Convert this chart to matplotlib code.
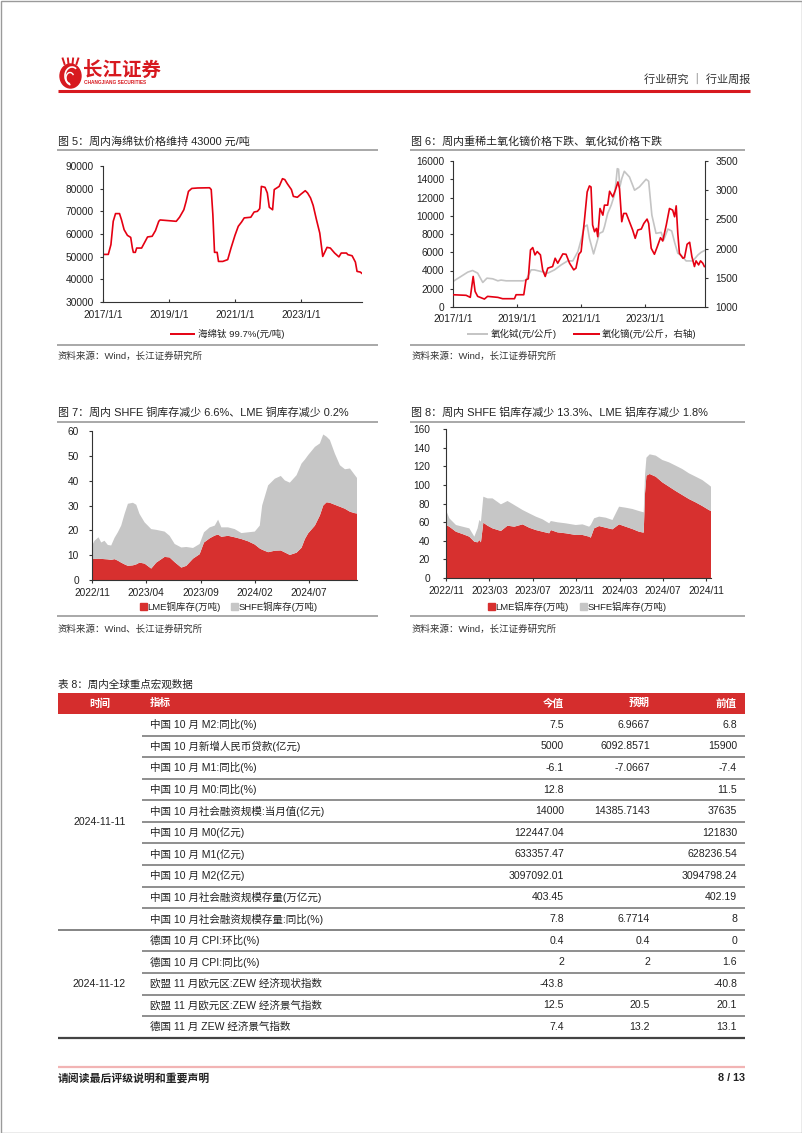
import matplotlib
matplotlib.use('Agg')
import matplotlib.pyplot as plt
from matplotlib.patches import Rectangle, Ellipse, Arc

plt.rcParams['font.family'] = ['Liberation Sans', 'Noto Sans CJK SC']
plt.rcParams['axes.unicode_minus'] = False

# ---------------- data ----------------
# 图5 海绵钛 99.7%(元/吨), x = decimal year
ti_year = [2017.04, 2017.16, 2017.24, 2017.31, 2017.38, 2017.50, 2017.56, 2017.64, 2017.74, 2017.84,
           2017.89, 2017.92, 2017.98, 2018.02, 2018.17, 2018.27, 2018.35, 2018.49, 2018.59, 2018.69,
           2018.73, 2019.22, 2019.32, 2019.45, 2019.52, 2019.59, 2019.69, 2019.87, 2020.23, 2020.28,
           2020.33, 2020.38, 2020.46, 2020.50, 2020.63, 2020.78, 2020.88, 2021.00, 2021.10, 2021.20,
           2021.28, 2021.48, 2021.58, 2021.68, 2021.75, 2021.80, 2021.91, 2021.98, 2022.04, 2022.14,
           2022.19, 2022.34, 2022.44, 2022.51, 2022.59, 2022.71, 2022.77, 2022.89, 2023.00, 2023.13,
           2023.20, 2023.29, 2023.37, 2023.47, 2023.57, 2023.66, 2023.79, 2023.89, 2024.02, 2024.15,
           2024.22, 2024.38, 2024.42, 2024.55, 2024.65, 2024.70, 2024.80, 2024.85]
ti_price = [51000, 51000, 55300, 65600, 69000, 69000, 66300, 61900, 59400, 58500,
            53800, 51900, 51900, 53800, 53800, 56500, 58700, 59000, 61500, 65600,
            66200, 65600, 67400, 70700, 74400, 78800, 80100, 80300, 80400, 79600,
            68500, 51900, 51900, 47900, 47900, 48700, 53800, 59400, 63400, 65300,
            67100, 67400, 69700, 70000, 71200, 81000, 80600, 78100, 71800, 70700,
            79600, 81000, 84400, 84000, 82100, 79600, 76600, 76200, 77600, 79100,
            78100, 75900, 72600, 66300, 60400, 50100, 54100, 53800, 51600, 49900,
            51600, 51600, 50900, 50400, 47600, 43500, 43200, 42600]

# 图6 氧化铽(元/公斤, 左轴)
tb_year = [2017.00, 2017.25, 2017.46, 2017.61, 2017.77, 2017.93, 2018.06, 2018.24, 2018.40, 2018.50,
           2018.66, 2019.18, 2019.28, 2019.44, 2019.54, 2019.75, 2019.96, 2020.17, 2020.38, 2020.58,
           2020.74, 2020.90, 2021.00, 2021.10, 2021.19, 2021.26, 2021.39, 2021.47, 2021.57, 2021.68,
           2021.73, 2021.83, 2021.94, 2022.04, 2022.09, 2022.13, 2022.17, 2022.21, 2022.27, 2022.35,
           2022.51, 2022.67, 2022.82, 2023.03, 2023.11, 2023.21, 2023.34, 2023.50, 2023.58, 2023.71,
           2023.83, 2023.92, 2024.02, 2024.13, 2024.28, 2024.49, 2024.65, 2024.75, 2024.85]
tb_price = [2800, 3350, 3820, 4000, 3710, 2690, 3160, 3090, 2870, 2950,
            2870, 2870, 2950, 4070, 4070, 3890, 3710, 4070, 4620, 5050,
            5050, 6070, 7350, 8800, 8980, 7530, 5820, 6800, 8070, 8250,
            8800, 10250, 11160, 12250, 13700, 15160, 15100, 13160, 14070, 14870,
            14250, 12800, 13160, 14000, 13780, 10070, 8070, 8180, 7350, 8540,
            8330, 7090, 5890, 5640, 5050, 5050, 5710, 6000, 6180]

# 图6 氧化镝(元/公斤, 右轴)
dy_year = [2017.00, 2017.41, 2017.54, 2017.63, 2017.69, 2017.77, 2017.98, 2018.08, 2018.40, 2018.55,
           2018.92, 2018.97, 2019.21, 2019.28, 2019.35, 2019.42, 2019.49, 2019.56, 2019.63, 2019.73,
           2019.80, 2019.88, 2019.96, 2020.11, 2020.19, 2020.27, 2020.43, 2020.53, 2020.64, 2020.77,
           2020.84, 2020.93, 2021.00, 2021.10, 2021.19, 2021.26, 2021.31, 2021.36, 2021.42, 2021.48,
           2021.52, 2021.59, 2021.68, 2021.73, 2021.83, 2021.89, 2021.99, 2022.07, 2022.15, 2022.20,
           2022.27, 2022.33, 2022.41, 2022.51, 2022.61, 2022.69, 2022.77, 2022.88, 2022.96, 2023.06,
           2023.11, 2023.19, 2023.29, 2023.38, 2023.48, 2023.55, 2023.66, 2023.76, 2023.86, 2023.92,
           2023.97, 2024.02, 2024.07, 2024.18, 2024.23, 2024.31, 2024.39, 2024.46, 2024.54, 2024.59,
           2024.67, 2024.73, 2024.80, 2024.85]
dy_price = [1210, 1200, 1165, 1523, 1267, 1182, 1136, 1182, 1165, 1142,
            1142, 1210, 1210, 1466, 1483, 1977, 2017, 1892, 1949, 1892,
            1636, 1523, 1665, 1693, 1835, 1750, 1909, 1903, 1750, 1636,
            1665, 1903, 1949, 2460, 2971, 3073, 3056, 2403, 2289, 2346,
            2204, 2687, 2573, 2744, 2744, 2982, 2886, 3000, 3141, 3028,
            2460, 2602, 2602, 2460, 2318, 2176, 2318, 2335, 2431, 2505,
            2431, 2005, 1903, 2034, 2187, 2130, 2403, 2687, 2659, 2545,
            2732, 2261, 1920, 1835, 1846, 2074, 2108, 1863, 1693, 1790,
            1721, 1790, 1750, 1693]

# 图7 铜库存(万吨), x = months since 2022/11
cu_month = [0.0, 0.23, 0.6, 0.85, 1.15, 1.46, 1.77, 2.08, 2.38, 2.69,
            3.0, 3.31, 3.77, 4.08, 4.38, 4.85, 5.46, 5.92, 6.69, 7.15,
            7.62, 8.23, 8.69, 9.31, 9.92, 10.32, 10.85, 11.31, 11.62, 11.92,
            12.54, 13.15, 13.77, 14.38, 15.0, 15.46, 15.68, 16.23, 16.85, 17.4,
            17.77, 18.23, 18.85, 19.31, 19.62, 19.92, 20.54, 21.0, 21.31, 21.62,
            21.92, 22.38, 22.85, 23.31, 23.77, 24.23, 24.42]
cu_lme = [8.4, 8.5, 8.6, 8.5, 8.4, 8.3, 8.1, 8.4, 7.8, 7.0,
          6.3, 5.7, 5.9, 6.3, 7.0, 6.6, 4.6, 7.0, 9.3, 9.1,
          7.2, 5.0, 5.7, 8.6, 10.4, 15.1, 16.8, 17.9, 18.3, 17.4,
          17.8, 17.2, 16.5, 15.6, 14.3, 12.7, 12.2, 11.2, 11.8, 11.9,
          11.1, 10.1, 11.0, 13.0, 16.5, 18.8, 21.9, 26.0, 30.0, 31.3,
          31.1, 30.3, 29.5, 28.7, 27.5, 26.9, 26.8]
cu_shfe = [5.4, 7.3, 8.6, 6.6, 7.4, 5.8, 5.8, 8.6, 11.4, 14.9,
           20.3, 25.0, 25.2, 24.0, 19.6, 16.6, 15.9, 13.2, 10.2, 8.7,
           7.3, 8.1, 7.6, 4.3, 4.1, 4.1, 4.4, 4.0, 6.0, 3.8,
           3.4, 3.3, 2.4, 3.6, 5.2, 9.2, 17.8, 26.9, 29.0, 30.0,
           29.0, 29.1, 31.2, 33.9, 32.0, 31.5, 31.7, 29.0, 28.6, 26.4,
           25.3, 20.6, 16.7, 15.9, 17.4, 15.3, 14.3]
cu_ticks = [0, 5, 10, 15, 20]
cu_labels = ['2022/11', '2023/04', '2023/09', '2024/02', '2024/07']

# 图8 铝库存(万吨)
al_month = [0.0, 0.31, 0.92, 1.53, 2.15, 2.61, 2.91, 3.07, 3.22, 3.44,
            3.83, 4.29, 5.06, 5.67, 6.29, 7.06, 7.67, 8.28, 8.9, 9.51,
            9.66, 10.28, 11.04, 11.96, 12.58, 13.19, 13.34, 13.65, 14.11, 14.72,
            15.34, 15.95, 16.56, 17.18, 17.79, 18.22, 18.34, 18.47, 18.77, 19.33,
            19.94, 20.55, 21.17, 21.78, 22.39, 23.01, 23.62, 24.23, 24.42]
al_lme = [56.9, 55.1, 49.7, 47.2, 44.4, 39.0, 38.3, 40.8, 38.3, 59.4,
          56.2, 53.3, 50.5, 56.2, 55.1, 57.6, 54.0, 51.5, 49.7, 48.0,
          51.5, 49.0, 48.0, 46.2, 46.2, 44.4, 43.3, 53.3, 55.8, 54.0,
          52.3, 57.6, 55.1, 52.6, 49.7, 48.7, 90.9, 109.9, 111.7, 108.8,
          102.7, 98.1, 93.4, 89.1, 84.8, 81.2, 77.3, 73.0, 71.9]
al_shfe = [16.1, 9.0, 7.2, 7.9, 8.9, 5.4, 15.0, 21.5, 22.2, 27.9,
           29.3, 32.2, 28.6, 26.5, 23.3, 15.4, 15.4, 14.4, 13.3, 10.7,
           9.7, 10.8, 10.7, 10.7, 11.4, 10.7, 13.6, 10.8, 10.1, 10.8,
           10.0, 19.0, 20.4, 21.5, 22.2, 21.8, 19.7, 19.3, 21.1, 22.6,
           24.0, 26.1, 27.2, 27.9, 27.6, 27.6, 27.9, 26.9, 26.2]
al_ticks = [0, 4, 8, 12, 16, 20, 24]
al_labels = ['2022/11', '2023/03', '2023/07', '2023/11', '2024/03', '2024/07', '2024/11']

# 表8 周内全球重点宏观数据
tbl_header = ['时间', '指标', '今值', '预期', '前值']
tbl_groups = [('2024-11-11', 10), ('2024-11-12', 5)]
tbl_items = ['中国 10 月 M2:同比(%)', '中国 10 月新增人民币贷款(亿元)', '中国 10 月 M1:同比(%)',
             '中国 10 月 M0:同比(%)', '中国 10 月社会融资规模:当月值(亿元)', '中国 10 月 M0(亿元)',
             '中国 10 月 M1(亿元)', '中国 10 月 M2(亿元)', '中国 10 月社会融资规模存量(万亿元)',
             '中国 10 月社会融资规模存量:同比(%)', '德国 10 月 CPI:环比(%)', '德国 10 月 CPI:同比(%)',
             '欧盟 11 月欧元区:ZEW 经济现状指数', '欧盟 11 月欧元区:ZEW 经济景气指数', '德国 11 月 ZEW 经济景气指数']
tbl_now = ['7.5', '5000', '-6.1', '12.8', '14000', '122447.04', '633357.47', '3097092.01',
           '403.45', '7.8', '0.4', '2', '-43.8', '12.5', '7.4']
tbl_exp = ['6.9667', '6092.8571', '-7.0667', '', '14385.7143', '', '', '',
           '', '6.7714', '0.4', '2', '', '20.5', '13.2']
tbl_prev = ['6.8', '15900', '-7.4', '11.5', '37635', '121830', '628236.54', '3094798.24',
            '402.19', '8', '0', '1.6', '-40.8', '20.1', '13.1']

# ---------------- page ----------------
W, H = 802, 1133
RED = '#e50012'
AREA_RED = '#d7302f'
AREA_GRAY = '#c6c6c6'
LINE_GRAY = '#c4c4c4'
TXT = '#222222'
TICK = 7.3

fig = plt.figure(figsize=(W / 100, H / 100), dpi=100)
fig.patch.set_facecolor('white')
page = fig.add_axes([0, 0, 1, 1])
page.set_xlim(0, W)
page.set_ylim(H, 0)
page.axis('off')


def ptxt(x, y, s, size=7, ha='left', color=TXT, weight='normal'):
    page.text(x, y, s, fontsize=size, ha=ha, va='center', color=color, fontweight=weight)


def hline(x0, x1, y, color, lw):
    page.plot([x0, x1], [y, y], color=color, lw=lw, solid_capstyle='butt')


def box(l, t, r, b):
    return fig.add_axes([l / W, 1 - b / H, (r - l) / W, (b - t) / H])


def style(ax):
    ax.set_facecolor('none')
    ax.spines['top'].set_visible(False)
    ax.spines['right'].set_visible(False)
    for s in ['left', 'bottom']:
        ax.spines[s].set_color('#333333')
        ax.spines[s].set_linewidth(0.8)
    ax.tick_params(axis='y', direction='out', length=2.5, width=0.8, color='#333333',
                   labelsize=TICK, labelcolor=TXT, pad=4)
    ax.tick_params(axis='x', direction='out', length=2.5, width=0.8, color='#333333',
                   labelsize=TICK, labelcolor=TXT, pad=3)


# page border
page.add_patch(Rectangle((0.5, 0.5), W - 1, H - 1, fill=False, edgecolor='#9a9a9a', lw=1))

# header / logo
page.add_patch(Ellipse((70.5, 76), 21, 24, color='#d7191f'))
page.add_patch(Arc((72, 76), 14, 18, theta1=100, theta2=300, color='white', lw=1.2))
page.add_patch(Arc((70, 78), 8, 11, theta1=90, theta2=320, color='white', lw=1.0))
for dx in (-6, -2, 2, 6):
    page.plot([70.5 + dx, 70.5 + dx * 1.3], [64, 58.5], color='#d7191f', lw=1.4)
ptxt(83, 70, '长江证券', size=14, color='#d7191f', weight='bold')
ptxt(84, 83, 'CHANGJIANG SECURITIES', size=3.4, color='#d7191f', weight='bold')
ptxt(750, 79, '行业研究 ｜ 行业周报', size=8, ha='right', color='#333333')
hline(58, 750, 90.7, '#d7191f', 2.2)

# ---------------- 图5 ----------------
ptxt(58, 142, '图 5：周内海绵钛价格维持 43000 元/吨', size=7.9)
hline(57, 378, 150, '#9a9a9a', 1.2)
ax5 = box(103, 166, 362, 302)
style(ax5)
ax5.plot(ti_year, ti_price, color=RED, lw=1.2)
ax5.set_xlim(2017, 2024.85)
ax5.set_ylim(30000, 90000)
ax5.set_yticks(range(30000, 90001, 10000))
ax5.set_xticks([2017, 2019, 2021, 2023])
ax5.set_xticklabels(['2017/1/1', '2019/1/1', '2021/1/1', '2023/1/1'])
ax5.tick_params(axis='x', direction='in', pad=6)
hline(170, 195, 334.3, RED, 1.4)
ptxt(197.5, 334.3, '海绵钛 99.7%(元/吨)', size=6.8)
hline(57, 378, 345, '#9a9a9a', 1.2)
ptxt(58, 356, '资料来源：Wind，长江证券研究所', size=6.8, color='#333333')

# ---------------- 图6 ----------------
ptxt(411, 142, '图 6：周内重稀土氧化镝价格下跌、氧化铽价格下跌', size=7.9)
hline(410, 745, 150, '#9a9a9a', 1.2)
ax6 = box(453, 161, 704.7, 307)
style(ax6)
ax6.plot(tb_year, tb_price, color=LINE_GRAY, lw=1.2)
ax6.set_xlim(2017, 2024.86)
ax6.set_ylim(0, 16000)
ax6.set_yticks(range(0, 16001, 2000))
ax6.set_xticks([2017, 2019, 2021, 2023])
ax6.set_xticklabels(['2017/1/1', '2019/1/1', '2021/1/1', '2023/1/1'])
ax6.tick_params(axis='x', direction='in', pad=5)
ax6r = ax6.twinx()
ax6r.set_facecolor('none')
ax6r.plot(dy_year, dy_price, color=RED, lw=1.2)
ax6r.set_ylim(1000, 3500)
ax6r.set_yticks(range(1000, 3501, 500))
ax6r.spines['top'].set_visible(False)
ax6r.spines['left'].set_visible(False)
ax6r.spines['bottom'].set_visible(False)
ax6r.spines['right'].set_color('#333333')
ax6r.spines['right'].set_linewidth(0.8)
ax6r.tick_params(axis='y', direction='out', length=2.5, width=0.8, color='#333333',
                 labelsize=TICK, labelcolor=TXT, pad=5)
hline(466.7, 488.3, 334, LINE_GRAY, 1.4)
ptxt(490.5, 334, '氧化铽(元/公斤)', size=6.8)
hline(573, 600, 334, RED, 1.4)
ptxt(602, 334, '氧化镝(元/公斤，右轴)', size=6.8)
hline(410, 745, 345, '#9a9a9a', 1.2)
ptxt(411, 356, '资料来源：Wind，长江证券研究所', size=6.8, color='#333333')

# ---------------- 图7 ----------------
ptxt(58, 413, '图 7：周内 SHFE 铜库存减少 6.6%、LME 铜库存减少 0.2%', size=7.9)
hline(57, 378, 421.7, '#9a9a9a', 1.2)
ax7 = box(92, 431, 357, 580)
style(ax7)
ax7.stackplot(cu_month, cu_lme, cu_shfe, colors=[AREA_RED, AREA_GRAY], linewidth=0)
ax7.set_xlim(0, cu_month[-1])
ax7.set_ylim(0, 60)
ax7.set_yticks(range(0, 61, 10))
ax7.set_xticks(cu_ticks)
ax7.set_xticklabels(cu_labels)
ax7.tick_params(axis='y', pad=7)
page.add_patch(Rectangle((140, 603), 6.5, 6.5, color=AREA_RED))
ptxt(147.5, 606.5, 'LME铜库存(万吨)', size=6.8)
page.add_patch(Rectangle((231, 603), 6.5, 6.5, color=AREA_GRAY))
ptxt(238.5, 606.5, 'SHFE铜库存(万吨)', size=6.8)
hline(57, 378, 616, '#9a9a9a', 1.2)
ptxt(58, 629, '资料来源：Wind、长江证券研究所', size=6.8, color='#333333')

# ---------------- 图8 ----------------
ptxt(411, 413, '图 8：周内 SHFE 铝库存减少 13.3%、LME 铝库存减少 1.8%', size=7.9)
hline(410, 745, 421.7, '#9a9a9a', 1.2)
ax8 = box(446, 429, 711, 578)
style(ax8)
ax8.stackplot(al_month, al_lme, al_shfe, colors=[AREA_RED, AREA_GRAY], linewidth=0)
ax8.set_xlim(0, al_month[-1])
ax8.set_ylim(0, 160)
ax8.set_yticks(range(0, 161, 20))
ax8.set_xticks(al_ticks)
ax8.set_xticklabels(al_labels)
ax8.tick_params(axis='y', pad=9)
page.add_patch(Rectangle((488, 603), 6.5, 6.5, color=AREA_RED))
ptxt(495.7, 606.5, 'LME铝库存(万吨)', size=6.8)
page.add_patch(Rectangle((580, 603), 6.5, 6.5, color=AREA_GRAY))
ptxt(587.5, 606.5, 'SHFE铝库存(万吨)', size=6.8)
hline(410, 745, 616, '#9a9a9a', 1.2)
ptxt(411, 629, '资料来源：Wind，长江证券研究所', size=6.8, color='#333333')

# ---------------- 表8 ----------------
ptxt(58, 685, '表 8：周内全球重点宏观数据', size=7.6)
t_top, t_head_bot, t_bot = 692.7, 714, 1037.7
t_left, t_right = 58, 745
row_h = (t_bot - t_head_bot) / len(tbl_items)
col_x = [99.5, 149.5, 564, 650, 737]
col_ha = ['center', 'left', 'right', 'right', 'right']
page.add_patch(Rectangle((t_left, t_top), t_right - t_left, t_head_bot - t_top, color='#d52d2d', lw=0))
for x, ha, s in zip(col_x, col_ha, tbl_header):
    ptxt(x, (t_top + t_head_bot) / 2, s, size=7.6, ha=ha, color='white', weight='bold')

for i, item in enumerate(tbl_items):
    yc = t_head_bot + row_h * (i + 0.5)
    ptxt(col_x[1], yc, item, size=7.6)
    ptxt(col_x[2], yc, tbl_now[i], size=7.6, ha='right')
    ptxt(col_x[3], yc, tbl_exp[i], size=7.6, ha='right')
    ptxt(col_x[4], yc, tbl_prev[i], size=7.6, ha='right')

start = 0
for label, n in tbl_groups:
    yc = t_head_bot + row_h * (start + n / 2)
    ptxt(col_x[0], yc, label, size=7.6, ha='center')
    for k in range(start + 1, start + n):
        hline(141.5, t_right, t_head_bot + row_h * k, '#707070', 1.1)
    start += n
    yb = t_head_bot + row_h * start
    if start < len(tbl_items):
        hline(t_left, t_right, yb, '#707070', 1.2)
hline(t_left, t_right, t_bot, '#444444', 1.6)

# footer
hline(58, 745, 1066.7, '#f2b4b4', 1.6)
ptxt(58, 1078, '请阅读最后评级说明和重要声明', size=7.8, weight='bold')
ptxt(745, 1078, '8 / 13', size=7.8, ha='right', weight='bold')

fig.savefig('out.png', dpi=100, facecolor='white')
